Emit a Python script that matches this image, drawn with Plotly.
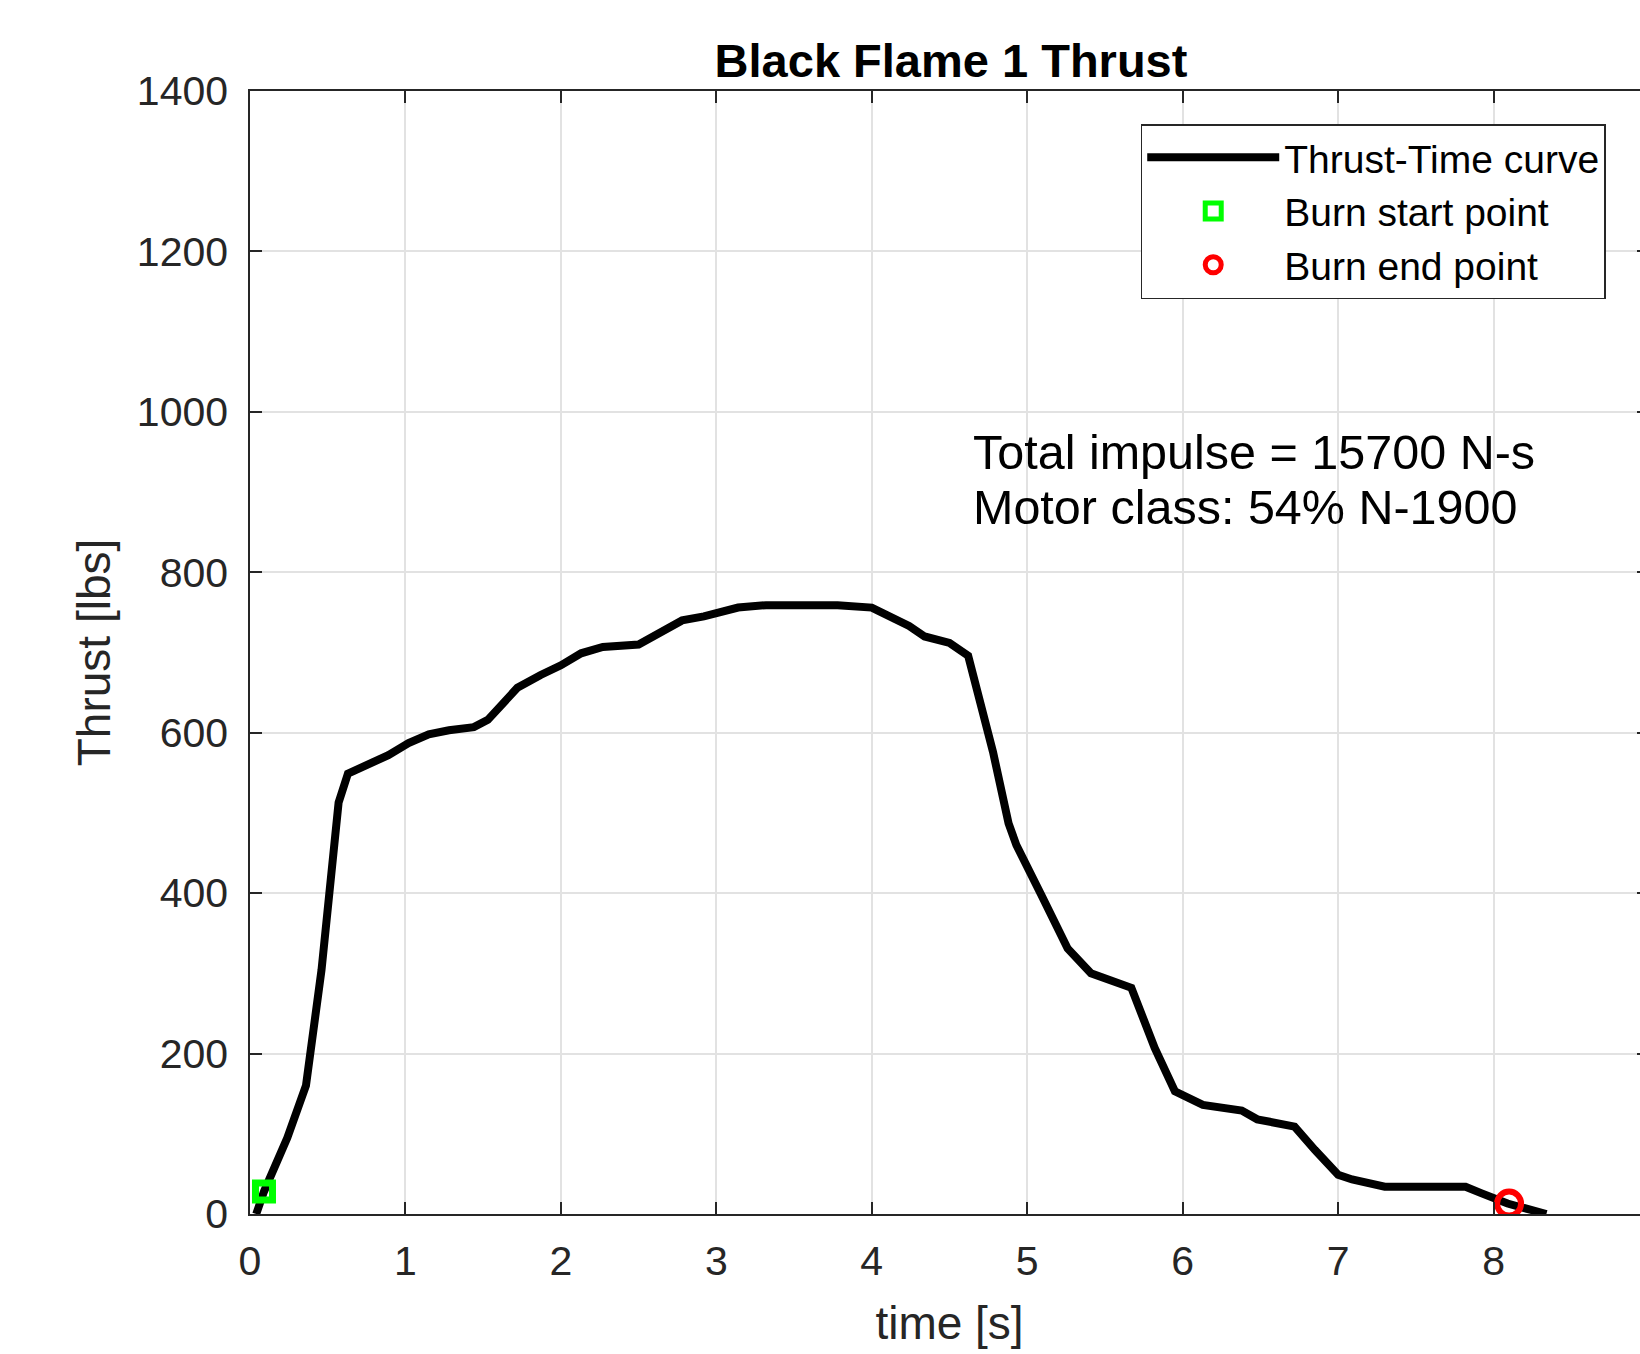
import plotly.graph_objects as go

# ---- data ----
time_s = [0.04, 0.09, 0.24, 0.36, 0.46, 0.52, 0.57, 0.63, 0.75, 0.89, 1.02, 1.15, 1.28,
          1.44, 1.53, 1.59, 1.72, 1.87, 2.00, 2.13, 2.27, 2.50, 2.63, 2.78, 2.92, 3.14,
          3.32, 3.51, 3.65, 3.78, 4.00, 4.14, 4.24, 4.34, 4.50, 4.62, 4.69, 4.78, 4.88,
          4.93, 5.09, 5.26, 5.41, 5.67, 5.82, 5.95, 6.13, 6.38, 6.48, 6.72, 6.85, 7.00,
          7.09, 7.30, 7.60, 7.82, 7.92, 8.00, 8.09, 8.34]
thrust_lbs = [0, 28, 95, 160, 304, 429, 513, 549, 559, 572, 587, 598, 603,
              607, 616, 629, 656, 672, 684, 699, 707, 710, 723, 740, 745, 756,
              759, 759, 757, 759, 756, 742, 733, 720, 712, 696, 647, 576, 487,
              460, 398, 331, 300, 282, 207, 153, 136, 129, 118, 109, 80, 49,
              43, 34, 34, 34, 26, 20, 13, 0]

burn_start_t = [0.09]
burn_start_f = [28]
burn_end_t = [8.10]
burn_end_f = [13]

x_ticks = [0, 1, 2, 3, 4, 5, 6, 7, 8]
y_ticks = [0, 200, 400, 600, 800, 1000, 1200, 1400]

title_text = "Black Flame 1 Thrust"
x_label = "time [s]"
y_label = "Thrust [lbs]"
note_line1 = "Total impulse = 15700 N-s"
note_line2 = "Motor class: 54% N-1900"
legend_names = ["Thrust-Time curve", "Burn start point", "Burn end point"]

# ---- figure ----
FONT = "Liberation Sans, Arial, Helvetica, sans-serif"
AX = "#262626"
GRID = "#e2e2e2"

# plot area spans screen x 250..1651 (right edge falls just outside the window), y 91..1214
L, T = 250, 91
PW, PH = 1401, 1123
W = L + PW
H = 1354
B = H - T - PH

fig = go.Figure()
fig.add_trace(go.Scatter(x=time_s, y=thrust_lbs, mode="lines", name=legend_names[0],
                         line=dict(color="black", width=8)))
fig.add_trace(go.Scatter(x=burn_start_t, y=burn_start_f, mode="markers", name=legend_names[1],
                         marker=dict(symbol="square-open", size=17, color="#00ff00",
                                     line=dict(color="#00ff00", width=7))))
fig.add_trace(go.Scatter(x=burn_end_t, y=burn_end_f, mode="markers", name=legend_names[2],
                         marker=dict(symbol="circle-open", size=24, color="#ff0000",
                                     line=dict(color="#ff0000", width=6))))

axis_common = dict(
    ticks="inside", ticklen=12, tickwidth=1.5, tickcolor=AX,
    showline=True, linecolor=AX, linewidth=1.5, mirror="ticks",
    showgrid=True, gridcolor=GRID, gridwidth=1.5, zeroline=False,
    tickfont=dict(family=FONT, size=41, color=AX),
)

fig.update_xaxes(range=[0, 9], tickvals=x_ticks, ticklabelstandoff=10,
                 title=dict(text=x_label, font=dict(family=FONT, size=46, color=AX), standoff=24),
                 **axis_common)
fig.update_yaxes(range=[0, 1400], tickvals=y_ticks, ticklabelstandoff=12,
                 title=dict(text=y_label, font=dict(family=FONT, size=46, color=AX), standoff=12),
                 **axis_common)

fig.update_layout(
    width=W, height=H, autosize=False,
    margin=dict(l=L, r=0, t=T, b=B, pad=0),
    paper_bgcolor="white", plot_bgcolor="white",
    font=dict(family=FONT, color="black"),
    title=dict(text="<b>" + title_text + "</b>", font=dict(family=FONT, size=47, color="black"),
               xref="container", x=951 / W, xanchor="center",
               yref="container", y=1 - 61 / H, yanchor="middle"),
    legend=dict(x=(1142 - L) / PW, y=1 - (124 - T) / PH, xanchor="left", yanchor="top",
                bgcolor="white", bordercolor=AX, borderwidth=1.5,
                font=dict(family=FONT, size=39, color="black"),
                itemwidth=132, tracegroupgap=0),
    showlegend=True,
)

fig.add_annotation(x=4.637, y=950, xref="x", yref="y", text=note_line1, showarrow=False,
                   xanchor="left", yanchor="middle", font=dict(family=FONT, size=48.5, color="black"))
fig.add_annotation(x=4.637, y=882, xref="x", yref="y", text=note_line2, showarrow=False,
                   xanchor="left", yanchor="middle", font=dict(family=FONT, size=48.5, color="black"))

fig.write_html(
    "out.html",
    config={"displayModeBar": False},
    post_script="document.body.style.margin='0';document.body.style.overflow='hidden';"
                "document.documentElement.style.overflow='hidden';",
)
